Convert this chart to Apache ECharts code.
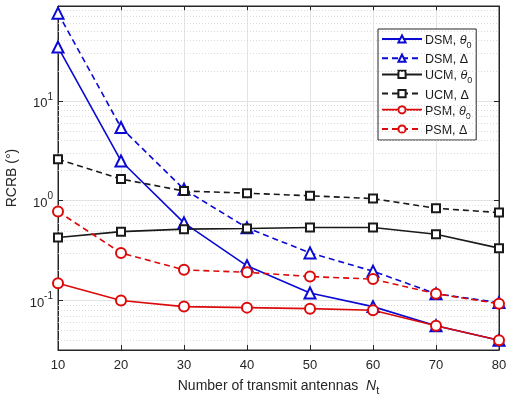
<!DOCTYPE html>
<html>
<head>
<meta charset="utf-8">
<script src="https://cdn.jsdelivr.net/npm/echarts@6/dist/echarts.min.js"></script>
<style>
  html, body { margin: 0; padding: 0; background: #fff; }
  #chart { width: 506px; height: 399px; }
</style>
</head>
<body>
<div id="chart"></div>
<script>
// number of transmit antennas
const antennas = [10, 20, 30, 40, 50, 60, 70, 80];

// RCRB values in degrees
const dsmTheta = [34.5, 2.5, 0.60, 0.223, 0.119, 0.087, 0.056, 0.040];
const dsmDelta = [75.5, 5.4, 1.30, 0.535, 0.30, 0.197, 0.117, 0.0955];
const ucmTheta = [0.428, 0.49, 0.519, 0.526, 0.54, 0.54, 0.462, 0.335];
const ucmDelta = [2.6, 1.65, 1.25, 1.19, 1.12, 1.05, 0.84, 0.76];
const psmTheta = [0.149, 0.10, 0.087, 0.085, 0.083, 0.080, 0.056, 0.040];
const psmDelta = [0.78, 0.30, 0.203, 0.192, 0.174, 0.164, 0.117, 0.093];

// minor grid lines on the log axis
const minorTicks = [0.04, 0.05, 0.06, 0.07, 0.08, 0.09,
  0.2, 0.3, 0.4, 0.5, 0.6, 0.7, 0.8, 0.9,
  2, 3, 4, 5, 6, 7, 8, 9,
  20, 30, 40, 50, 60, 70, 80];

const Y_MIN = 0.032;
const Y_MAX = 89;

const BLUE = '#0a0ad2';
const BLACK = '#1a1a1a';
const RED = '#dc0a0a';
const FONT = "'Liberation Sans', Arial, sans-serif";

const chart = echarts.init(document.getElementById('chart'), null, { renderer: 'canvas' });

function makeSeries(name, data, color, symbol, size, dashed) {
  return {
    name,
    type: 'line',
    data: antennas.map((x, i) => [x, data[i]]),
    symbol,
    symbolSize: size,
    showSymbol: true,
    animation: false,
    z: 5,
    lineStyle: { color, width: 1.6, type: dashed ? [6, 4] : 'solid' },
    itemStyle: { color, borderColor: color, borderWidth: 1.5 },
  };
}

const series = [
  makeSeries('DSM, θ0', dsmTheta, BLUE, 'emptyTriangle', 11, false),
  makeSeries('DSM, Δ', dsmDelta, BLUE, 'emptyTriangle', 11, true),
  makeSeries('UCM, θ0', ucmTheta, BLACK, 'emptyRect', 8, false),
  makeSeries('UCM, Δ', ucmDelta, BLACK, 'emptyRect', 8, true),
  makeSeries('PSM, θ0', psmTheta, RED, 'emptyCircle', 10, false),
  makeSeries('PSM, Δ', psmDelta, RED, 'emptyCircle', 10, true),
];

// dotted minor grid, drawn through the y axis scale
series.push({
  name: 'minorGrid',
  type: 'line',
  data: [],
  silent: true,
  animation: false,
  z: 1,
  markLine: {
    silent: true,
    symbol: 'none',
    label: { show: false },
    lineStyle: { color: '#d4d4d4', width: 0.8, type: [1, 2] },
    data: minorTicks.map((v) => ({ yAxis: v })),
  },
});

const option = {
  backgroundColor: '#fff',
  textStyle: { fontFamily: FONT },
  grid: {
    left: 58, right: 7, top: 6, bottom: 49,
    outerBoundsMode: 'none',
    containLabel: false,
    show: true, borderColor: '#262626', borderWidth: 1,
  },
  legend: {
    data: series.slice(0, 6).map((s) => s.name),
    orient: 'vertical',
    left: 378,
    top: 29,
    padding: [5, 4, 3, 3],
    itemGap: 3.2,
    itemWidth: 40,
    itemHeight: 9,
    backgroundColor: '#fff',
    borderColor: '#262626',
    borderWidth: 1,
    borderRadius: 0,
    textStyle: {
      fontFamily: FONT,
      fontSize: 12,
      color: '#1a1a1a',
      padding: [0, 0, 0, -2],
      rich: {
        n: { fontSize: 12.5, fontFamily: FONT, color: '#1a1a1a', verticalAlign: 'bottom', lineHeight: 16 },
        it: { fontSize: 12.5, fontStyle: 'italic', fontFamily: FONT, color: '#1a1a1a', verticalAlign: 'bottom', lineHeight: 16 },
        sub: { fontSize: 9, fontFamily: FONT, color: '#1a1a1a', verticalAlign: 'bottom', lineHeight: 12, padding: [0, 0, -3, 0] },
      },
    },
    formatter: (name) => {
      const parts = name.split(', ');
      if (parts[1] === 'θ0') return '{n|' + parts[0] + ', }{it|θ}{sub|0}';
      return '{n|' + parts[0] + ', ' + parts[1] + '}';
    },
  },
  xAxis: [
    {
      type: 'value',
      min: 10,
      max: 80,
      interval: 10,
      name: 'Number of transmit antennas  {it|N}{sub|t}',
      nameLocation: 'middle',
      nameGap: 29,
      nameTextStyle: {
        fontFamily: FONT, fontSize: 14, color: '#262626',
        rich: {
          it: { fontSize: 14, fontStyle: 'italic', fontFamily: FONT, color: '#262626' },
          sub: { fontSize: 11, fontFamily: FONT, color: '#262626', padding: [0, 0, -9, 0] },
        },
      },
      axisLine: { show: true, lineStyle: { color: '#262626', width: 1 } },
      axisTick: { show: true, inside: true, length: 5, lineStyle: { color: '#262626' } },
      axisLabel: { fontSize: 13, color: '#262626', margin: 9 },
      splitLine: { show: true, lineStyle: { color: '#e3e3e3', width: 1 } },
    },
    {
      type: 'value',
      position: 'top',
      min: 10,
      max: 80,
      interval: 10,
      axisLine: { show: true, lineStyle: { color: '#262626', width: 1 } },
      axisTick: { show: true, inside: true, length: 5, lineStyle: { color: '#262626' } },
      axisLabel: { show: false },
      splitLine: { show: false },
    },
  ],
  yAxis: [
    {
      type: 'log',
      logBase: 10,
      min: Y_MIN,
      max: Y_MAX,
      name: 'RCRB (°)',
      nameLocation: 'middle',
      nameGap: 35,
      nameTextStyle: { fontFamily: FONT, fontSize: 14, color: '#262626' },
      axisLine: { show: true, lineStyle: { color: '#262626', width: 1 } },
      axisTick: { show: true, inside: true, length: 5, lineStyle: { color: '#262626' } },
      axisLabel: {
        showMinLabel: false,
        showMaxLabel: false,
        margin: 5,
        color: '#262626',
        formatter: (v) => {
          const e = Math.round(Math.log10(v));
          return '{b|10}{s|' + e + '}';
        },
        rich: {
          b: { fontSize: 13, fontFamily: FONT, color: '#262626', verticalAlign: 'bottom', lineHeight: 18 },
          s: { fontSize: 10, fontFamily: FONT, color: '#262626', verticalAlign: 'top', lineHeight: 18 },
        },
      },
      splitLine: { show: true, lineStyle: { color: '#e3e3e3', width: 1 } },
    },
    {
      type: 'log',
      logBase: 10,
      min: Y_MIN,
      max: Y_MAX,
      position: 'right',
      axisLine: { show: true, lineStyle: { color: '#262626', width: 1 } },
      axisTick: { show: true, inside: true, length: 5, lineStyle: { color: '#262626' } },
      axisLabel: { show: false },
      splitLine: { show: false },
    },
  ],
  series,
};

chart.setOption(option);
</script>
</body>
</html>
